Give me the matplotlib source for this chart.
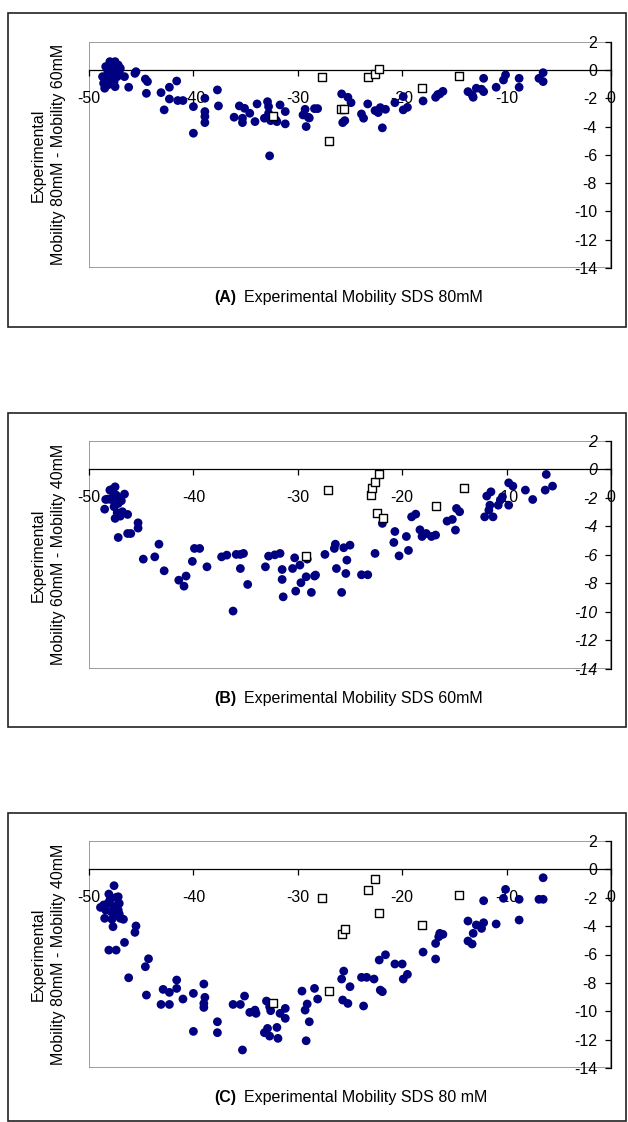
import matplotlib
matplotlib.use('Agg')
import matplotlib.pyplot as plt
from matplotlib.patches import Rectangle

plt.rcParams['font.family'] = ['Liberation Sans', 'DejaVu Sans']
plt.rcParams['axes.unicode_minus'] = False

# ---- panel A : 80mM - 60mM vs mobility at 80mM ----
a_dot_x = [-48.7, -48.6, -48.5, -48.4, -48.2, -48.1, -48.0, -47.9, -47.8, -47.7,
           -47.6, -47.5, -47.4, -47.3, -47.2, -47.1, -47.7, -48.2, -47.0, -47.5,
           -46.6, -46.2, -45.6, -45.5, -44.6, -44.4, -44.5, -43.1, -42.8, -42.3,
           -42.3, -41.6, -41.5, -41.0, -40.0, -40.0, -38.9, -38.9, -38.9, -38.9,
           -37.7, -37.6, -36.1, -35.6, -35.3, -35.3, -35.1, -34.6, -34.1, -33.9,
           -33.2, -32.9, -32.8, -32.8, -32.7, -32.6, -32.1, -32.0, -31.7, -31.2,
           -31.2, -29.5, -29.3, -29.2, -29.0, -28.9, -28.4, -28.1, -25.8, -25.7,
           -25.5, -25.2, -24.9, -23.9, -23.7, -23.3, -22.6, -22.3, -22.1, -21.9,
           -21.6, -20.7, -19.9, -19.5, -19.9, -18.0, -16.8, -16.6, -16.4, -16.1,
           -13.7, -13.3, -13.2, -12.9, -12.4, -12.2, -12.2, -11.0, -10.3, -10.1,
           -8.8, -8.8, -6.9, -6.5, -6.5]
a_dot_y = [-0.47, -0.94, -1.29, 0.24, -0.12, -0.71, 0.59, -0.35, 0.24, 0.47,
           -0.82, -1.18, 0.0, -0.47, 0.35, -0.12, -0.59, -1.06, 0.12, 0.59,
           -0.47, -1.22, -0.24, -0.12, -0.64, -0.82, -1.65, -1.60, -2.82, -1.22,
           -2.05, -0.78, -2.16, -2.16, -2.59, -4.47, -2.00, -3.29, -2.94, -3.72,
           -1.41, -2.54, -3.34, -2.54, -3.41, -3.72, -2.71, -3.06, -3.65, -2.40,
           -3.41, -2.24, -2.59, -3.06, -6.07, -3.58, -3.53, -3.65, -2.47, -2.94,
           -3.81, -3.18, -2.78, -4.00, -3.34, -3.39, -2.73, -2.73, -1.69, -3.72,
           -3.58, -1.93, -2.31, -3.11, -3.41, -2.40, -2.87, -3.01, -2.66, -4.09,
           -2.78, -2.31, -2.82, -2.64, -1.88, -2.19, -1.93, -1.74, -1.69, -1.51,
           -1.53, -1.76, -1.93, -1.29, -1.36, -1.53, -0.59, -1.22, -0.71, -0.35,
           -0.59, -1.22, -0.59, -0.19, -0.82]
a_box_x = [-32.4, -27.7, -27.0, -25.9, -25.6, -23.3, -22.6, -22.2, -18.1, -14.6]
a_box_y = [-3.22, -0.49, -5.04, -2.75, -2.75, -0.49, -0.28, 0.09, -1.25, -0.40]

# ---- panel B : 60mM - 40mM vs mobility at 60mM ----
b_dot_x = [-48.5, -48.4, -48.2, -48.0, -47.8, -47.7, -47.6, -47.5, -47.4, -47.3,
           -47.2, -47.1, -47.0, -46.9, -46.8, -46.6, -46.3, -47.2, -47.5, -47.9,
           -46.3, -46.0, -45.3, -45.3, -44.8, -43.7, -43.3, -42.8, -41.4, -40.9,
           -40.7, -40.1, -39.9, -39.4, -38.7, -37.3, -36.8, -36.2, -35.9, -35.5,
           -35.5, -35.2, -34.8, -33.1, -32.8, -32.2, -31.7, -31.5, -31.5, -31.4,
           -30.5, -30.3, -30.2, -29.8, -29.7, -29.2, -29.1, -28.7, -28.4, -28.3,
           -27.4, -26.5, -26.4, -26.3, -25.8, -25.6, -25.4, -25.3, -25.0, -23.9,
           -23.3, -22.6, -21.9, -20.8, -20.7, -20.3, -19.6, -19.4, -19.1, -18.7,
           -18.3, -18.1, -17.7, -17.2, -16.8, -15.7, -15.2, -14.9, -14.8, -14.5,
           -12.1, -11.9, -11.7, -11.6, -11.5, -11.3, -10.8, -10.6, -10.4, -9.8,
           -9.8, -9.4, -8.2, -7.5, -6.3, -6.2, -5.6]
b_dot_y = [-2.79, -2.11, -2.08, -1.45, -1.41, -1.92, -2.62, -1.22, -1.80, -3.04,
           -2.39, -2.04, -3.28, -2.20, -2.97, -1.73, -3.16, -4.78, -3.44, -2.11,
           -4.50, -4.50, -3.75, -4.12, -6.30, -6.14, -5.25, -7.12, -7.78, -8.20,
           -7.49, -6.46, -5.55, -5.55, -6.84, -6.14, -6.02, -9.95, -5.97, -6.96,
           -5.97, -5.90, -8.08, -6.84, -6.09, -6.00, -5.90, -7.03, -7.73, -8.95,
           -6.96, -6.21, -8.55, -6.72, -7.96, -7.54, -6.30, -8.64, -7.49, -7.42,
           -5.97, -5.55, -5.25, -6.96, -8.64, -5.50, -7.31, -6.37, -5.32, -7.40,
           -7.40, -5.90, -3.79, -5.13, -4.36, -6.07, -4.71, -5.69, -3.33, -3.14,
           -4.24, -4.71, -4.50, -4.71, -4.61, -3.63, -3.51, -4.26, -2.74, -2.97,
           -3.33, -1.87, -2.86, -2.51, -1.57, -3.33, -2.51, -2.15, -1.92, -0.94,
           -2.51, -1.17, -1.45, -2.11, -1.45, -0.35, -1.17]
b_box_x = [-27.1, -29.2, -23.0, -22.9, -22.6, -22.2, -22.4, -21.8, -16.8, -14.1]
b_box_y = [-1.45, -6.09, -1.76, -1.33, -0.87, -0.33, -3.04, -3.44, -2.58, -1.33]

# ---- panel C : 80mM - 40mM vs mobility at 80mM ----
c_dot_x = [-48.9, -48.6, -48.5, -48.4, -48.2, -48.1, -48.0, -47.9, -47.8, -47.7,
           -47.6, -47.6, -47.5, -47.4, -47.3, -47.2, -47.1, -47.1, -47.0, -47.2,
           -46.7, -48.1, -47.4, -46.6, -46.2, -45.6, -45.5, -44.6, -44.5, -44.3,
           -43.1, -42.9, -42.3, -42.3, -41.6, -41.6, -41.0, -40.0, -40.0, -39.0,
           -39.0, -39.0, -38.9, -37.7, -37.7, -36.2, -35.5, -35.3, -35.1, -34.6,
           -34.1, -34.0, -33.2, -33.0, -32.9, -32.7, -32.7, -32.6, -32.0, -31.9,
           -31.7, -31.2, -31.2, -29.6, -29.3, -29.2, -29.1, -28.9, -28.4, -28.1,
           -25.8, -25.7, -25.6, -25.2, -25.0, -23.9, -23.7, -23.4, -22.7, -22.2,
           -22.1, -21.9, -21.6, -20.7, -20.0, -19.9, -19.5, -18.0, -16.8, -16.8,
           -16.5, -16.4, -16.1, -13.7, -13.7, -13.3, -13.2, -12.9, -12.4, -12.2,
           -12.2, -11.0, -10.3, -10.1, -8.8, -8.8, -6.9, -6.5, -6.5]
c_dot_y = [-2.68, -2.51, -3.45, -2.87, -2.40, -1.74, -2.16, -2.98, -3.52, -4.04,
           -1.15, -2.63, -3.22, -1.97, -2.51, -2.87, -2.40, -3.15, -3.45, -1.93,
           -3.52, -5.69, -5.69, -5.15, -7.64, -4.44, -3.99, -6.86, -8.86, -6.30,
           -9.52, -8.46, -8.67, -9.52, -7.80, -8.39, -9.14, -8.74, -11.42, -8.08,
           -9.45, -9.73, -9.02, -10.74, -11.51, -9.52, -9.52, -12.73, -8.93, -10.08,
           -9.92, -10.15, -11.51, -9.28, -11.21, -9.68, -11.75, -9.96, -11.14, -11.91,
           -10.15, -9.80, -10.50, -8.58, -9.92, -12.08, -9.49, -10.74, -8.39, -9.14,
           -7.73, -9.21, -7.17, -9.45, -8.27, -7.61, -9.63, -7.61, -7.73, -6.39,
           -8.51, -8.62, -6.02, -6.67, -6.67, -7.73, -7.40, -5.83, -5.22, -6.32,
           -4.75, -4.51, -4.58, -5.05, -3.64, -5.26, -4.51, -3.92, -4.16, -3.76,
           -2.21, -3.85, -2.04, -1.41, -2.11, -3.57, -2.11, -2.11, -0.59]
c_box_x = [-27.7, -27.0, -32.4, -25.8, -25.5, -23.3, -22.6, -22.2, -18.1, -14.6]
c_box_y = [-2.04, -8.58, -9.45, -4.58, -4.23, -1.46, -0.68, -3.05, -3.92, -1.83]

x_ticks = [-50, -40, -30, -20, -10, 0]
y_ticks = [2, 0, -2, -4, -6, -8, -10, -12, -14]

panels = [
    (a_dot_x, a_dot_y, a_box_x, a_box_y, 'Mobility 80mM - Mobility 60mM',
     '(A)', 'Experimental Mobility SDS 80mM', 'normal'),
    (b_dot_x, b_dot_y, b_box_x, b_box_y, 'Mobility 60mM - Mobility 40mM',
     '(B)', 'Experimental Mobility SDS 60mM', 'italic'),
    (c_dot_x, c_dot_y, c_box_x, c_box_y, 'Mobility 80mM - Mobility 40mM',
     '(C)', 'Experimental Mobility SDS 80 mM', 'normal'),
]

W, H = 628, 1122
fig = plt.figure(figsize=(W / 100, H / 100), dpi=100)

# pixel layout: (axes top, axes bottom, outer box top, outer box bottom)
rows = [(41.7, 268, 12.7, 327), (441, 668.7, 412.7, 727), (841, 1068, 812.7, 1121)]
ax_l, ax_r = 89, 611

for (dx, dy, bx, by, ylab, tag, xlab, ystyle), (top, bot, btop, bbot) in zip(panels, rows):
    # outer frame of the panel
    fig.patches.append(Rectangle((8 / W, 1 - bbot / H), (626 - 8) / W, (bbot - btop) / H,
                                 transform=fig.transFigure, fill=False,
                                 edgecolor='#222222', linewidth=1.2))

    ax = fig.add_axes([ax_l / W, 1 - bot / H, (ax_r - ax_l) / W, (bot - top) / H])
    ax.scatter(dx, dy, s=40, color='#000080', edgecolors='none', zorder=3)
    ax.scatter(bx, by, s=30, marker='s', facecolor='white', edgecolor='black',
               linewidths=1.0, zorder=4)
    ax.set_xlim(-50, 0)
    ax.set_ylim(-14, 2)

    # Excel-style axes crossing at zero
    ax.spines['left'].set_position(('data', 0))
    ax.spines['bottom'].set_position(('data', 0))
    ax.spines['top'].set_visible(False)
    ax.spines['right'].set_visible(False)
    for s in ('left', 'bottom'):
        ax.spines[s].set_color('black')
        ax.spines[s].set_linewidth(0.9)
    ax.add_patch(Rectangle((0, 0), 1, 1, transform=ax.transAxes, fill=False,
                           edgecolor='#8c8c8c', linewidth=1.2, zorder=1))

    ax.set_xticks(x_ticks)
    ax.set_yticks(y_ticks)
    ax.set_yticklabels([str(v) for v in y_ticks], fontstyle=ystyle)
    ax.tick_params(axis='x', direction='out', length=4, width=0.9, pad=11, labelsize=11.5)
    ax.tick_params(axis='y', direction='out', length=4, width=0.9, pad=6, labelsize=11.5)

    ax.text(0.283, -0.13, tag, transform=ax.transAxes, ha='right', va='center',
            fontsize=11.5, fontweight='bold')
    ax.text(0.297, -0.13, xlab, transform=ax.transAxes, ha='left', va='center',
            fontsize=11.5)

    fig.text(48 / W, 1 - (top + bot) / 2 / H, 'Experimental\n' + ylab,
             rotation=90, ha='center', va='center', multialignment='center',
             fontsize=11.5, linespacing=1.45)

fig.savefig('out.png', dpi=100)
